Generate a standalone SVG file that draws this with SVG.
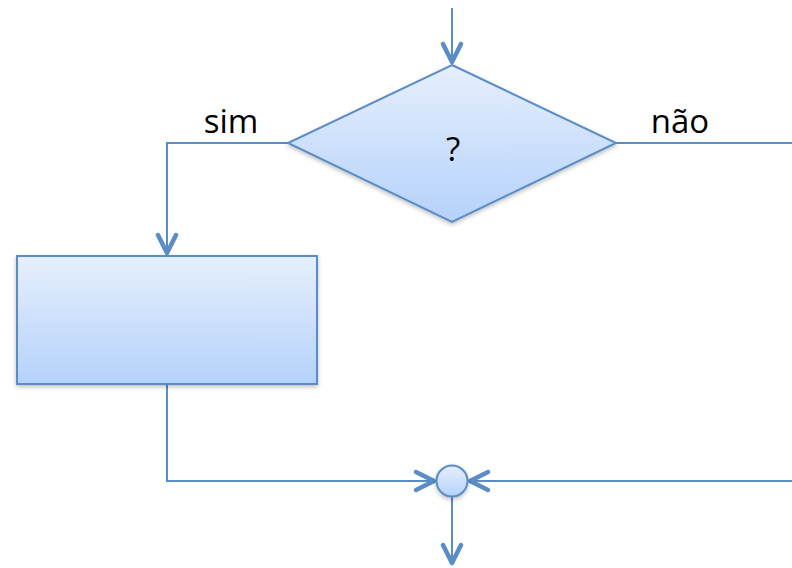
<svg xmlns="http://www.w3.org/2000/svg" width="792" height="568" viewBox="0 0 792 568">
<defs>
<linearGradient id="fill" x1="0" y1="0" x2="0" y2="1">
<stop offset="0" stop-color="#e6effc"/>
<stop offset="1" stop-color="#b5d2fb"/>
</linearGradient>
<filter id="sh" x="-20%" y="-20%" width="140%" height="140%">
<feDropShadow dx="0" dy="2" stdDeviation="2" flood-color="#000" flood-opacity="0.25"/>
</filter>
<marker id="arr" markerUnits="userSpaceOnUse" markerWidth="30" markerHeight="30" refX="23" refY="13" orient="auto" viewBox="0 0 30 26">
<path d="M 5 4 L 23 13 L 5 22" fill="none" stroke="#5a8cc6" stroke-width="4.5" stroke-linecap="round" stroke-linejoin="round"/>
</marker>
<style>
.conn{fill:none;stroke:#5a8cc6;stroke-width:2}
.shape{fill:url(#fill);stroke:#5a8cc6;stroke-width:2;filter:url(#sh)}
.lbl{font-family:"Open Sans","Liberation Sans",sans-serif;font-size:33px;fill:#000}
</style>
</defs>
<g id="connectors">
<path class="conn" d="M 452 8 L 452 62" marker-end="url(#arr)"/>
<path class="conn" d="M 288 143 L 167 143 L 167 253" marker-end="url(#arr)"/>
<path class="conn" d="M 616 143 L 792 143"/>
<path class="conn" d="M 167 384 L 167 481 L 434 481" marker-end="url(#arr)"/>
<path class="conn" d="M 792 481 L 470 481" marker-end="url(#arr)"/>
<path class="conn" d="M 452 497 L 452 563" marker-end="url(#arr)"/>
</g>
<g id="decision">
<polygon class="shape" points="452,65 616,143 452,222 288,143"/>
<text class="lbl" x="453" y="161" text-anchor="middle">?</text>
</g>
<g id="process">
<rect class="shape" x="17" y="256" width="300" height="128"/>
</g>
<g id="junction">
<circle class="shape" cx="452" cy="481" r="15.5"/>
</g>
<g id="labels">
<text class="lbl" x="231" y="133" text-anchor="middle">sim</text>
<text class="lbl" x="680" y="133" text-anchor="middle">não</text>
</g>
</svg>
